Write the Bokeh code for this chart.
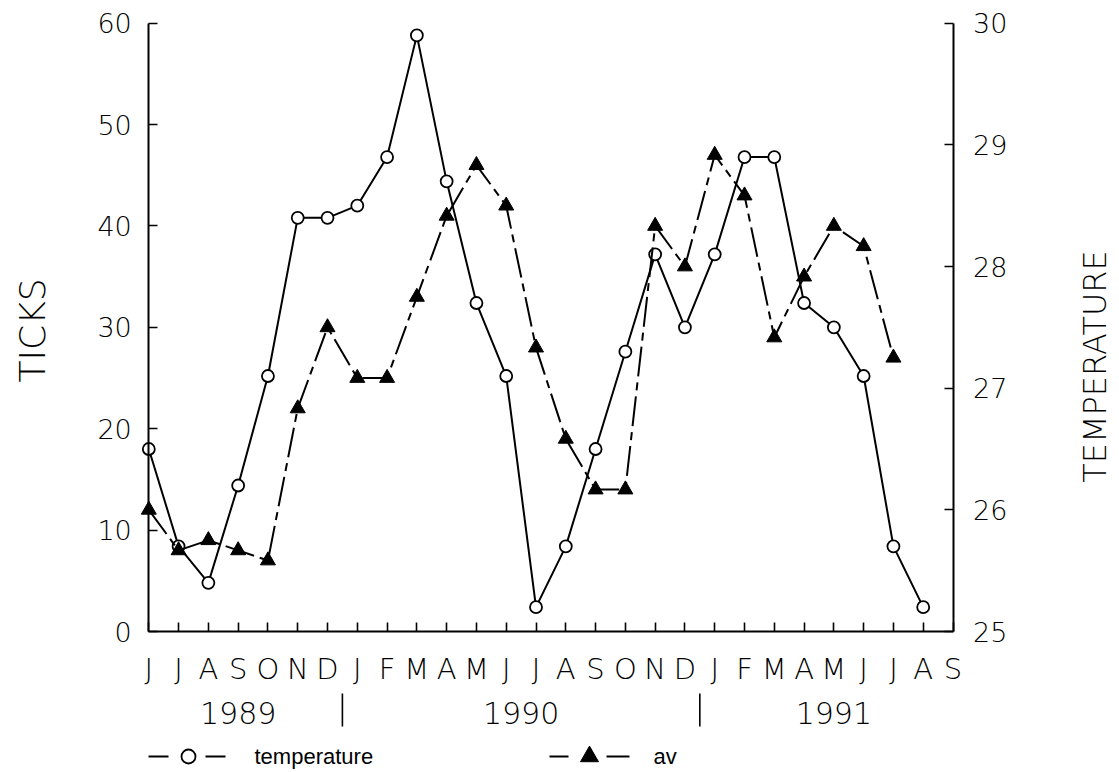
import math
from bokeh.plotting import figure
from bokeh.models import LinearAxis, Range1d, FixedTicker
from bokeh.core.properties import value
from bokeh.embed import file_html
from bokeh.resources import INLINE

# ---------------- data ----------------
months = ["J", "J", "A", "S", "O", "N", "D",
          "J", "F", "M", "A", "M", "J", "J", "A", "S", "O", "N", "D",
          "J", "F", "M", "A", "M", "J", "J", "A", "S"]
years = ["1989", "1990", "1991"]
months_per_year = [7, 12, 9]
ticks_values = [0, 10, 20, 30, 40, 50, 60]
temp_ticks = [25, 26, 27, 28, 29, 30]

temperature = [26.5, 25.7, 25.4, 26.2, 27.1, 28.4, 28.4, 28.5, 28.9, 29.9,
               28.7, 27.7, 27.1, 25.2, 25.7, 26.5, 27.3, 28.1, 27.5, 28.1,
               28.9, 28.9, 27.7, 27.5, 27.1, 25.7, 25.2]
av = [12, 8, 9, 8, 7, 22, 30, 25, 25, 33, 41, 46, 42, 28, 19, 14, 14,
      40, 36, 47, 43, 29, 35, 40, 38, 27]

x_temp = list(range(len(temperature)))
x_av = list(range(len(av)))
N = len(months) - 1

# ---------------- geometry (page pixels of the axes) ----------------
W, H = 1119, 772
PX0, PXN = 148.3, 952.5      # x = 0 and x = N
PY0, PY60 = 631.0, 22.7      # y = 0 and y = 60
SX = (PXN - PX0) / N
SY = (PY0 - PY60) / 60.0


def dx(px):
    return (px - PX0) / SX


def dy(py):
    return (PY0 - py) / SY


def to_temp(v):
    return 25 + v * 5.0 / 60.0


p = figure(width=W, height=H,
           x_range=Range1d(dx(0), dx(W)), y_range=Range1d(dy(H), dy(0)),
           output_backend="svg", toolbar_location=None,
           min_border=0, min_border_left=0, min_border_right=0,
           min_border_top=0, min_border_bottom=0)
p.extra_y_ranges = {"temp": Range1d(to_temp(dy(H)), to_temp(dy(0)))}
p.outline_line_color = None
p.xgrid.visible = False
p.ygrid.visible = False
p.background_fill_color = "white"
p.border_fill_color = "white"

NUM_FONT = "DejaVu Sans Light, DejaVu Sans"


def style_axis(ax, font_size, standoff):
    ax.axis_line_width = 2
    ax.axis_line_color = "black"
    ax.major_tick_in = 9
    ax.major_tick_out = 0
    ax.major_tick_line_width = 1.6
    ax.major_tick_line_color = "black"
    ax.minor_tick_line_color = None
    ax.major_label_text_font = NUM_FONT
    ax.major_label_text_font_size = font_size
    ax.major_label_text_color = "black"
    ax.major_label_standoff = standoff


xa = p.xaxis[0]
xa.ticker = FixedTicker(ticks=list(range(len(months))))
xa.major_label_overrides = {i: m for i, m in enumerate(months)}
xa.fixed_location = 0
xa.bounds = (0, N)
style_axis(xa, "29px", 20)

ya = p.yaxis[0]
ya.ticker = FixedTicker(ticks=ticks_values)
ya.fixed_location = 0
ya.bounds = (0, 60)
style_axis(ya, "27px", 17)

yr = LinearAxis(y_range_name="temp", ticker=FixedTicker(ticks=temp_ticks),
                fixed_location=N, bounds=(25, 30))
style_axis(yr, "27px", 20)
p.add_layout(yr, "right")

# ---------------- series ----------------
p.line(x_temp, temperature, y_range_name="temp", line_color="black", line_width=2)
p.scatter(x_temp, temperature, y_range_name="temp", marker="circle", size=12,
          fill_color="white", line_color="black", line_width=1.8)

p.line(x_av, av, line_color="black", line_width=2, line_dash="30 6 8 6")
p.scatter(x_av, av, marker="triangle", size=15, fill_color="black",
          line_color="black")

# ---------------- axis titles ----------------
p.text(x=[dx(32)], y=[dy(330)], text=["TICKS"], angle=math.pi / 2,
       text_align="center", text_baseline="middle",
       text_font=value(NUM_FONT), text_font_size=value("36px"), text_color="black")
p.text(x=[dx(1094)], y=[dy(366)], text=["TEMPERATURE"], angle=math.pi / 2,
       text_align="center", text_baseline="middle",
       text_font=value(NUM_FONT), text_font_size=value("32px"), text_color="black")

# ---------------- years and separators ----------------
centres, bounds_ = [], []
start = 0
for cnt in months_per_year:
    centres.append(start + (cnt - 1) / 2)
    start += cnt
    if start < len(months):
        bounds_.append(start - 0.5)
p.text(x=centres, y=[dy(712)] * len(years), text=years, text_align="center",
       text_baseline="middle", text_font=value(NUM_FONT),
       text_font_size=value("30px"), text_color="black")
p.segment(x0=bounds_, y0=[dy(693)] * len(bounds_), x1=bounds_,
          y1=[dy(726)] * len(bounds_), line_width=1.6, line_color="black")

# ---------------- legend ----------------
ly = dy(756)
seg_px = [(148, 168), (205, 225), (549, 568), (606, 629)]
p.segment(x0=[dx(a) for a, b in seg_px], y0=[ly] * 4,
          x1=[dx(b) for a, b in seg_px], y1=[ly] * 4,
          line_width=2, line_color="black")
p.scatter(x=[dx(188)], y=[ly], marker="circle", size=14, fill_color="white",
          line_color="black", line_width=1.8)
p.scatter(x=[dx(589)], y=[ly], marker="triangle", size=18, fill_color="black",
          line_color="black")
p.text(x=[dx(254), dx(653)], y=[ly, ly], text=["temperature", "av"],
       text_align="left", text_baseline="middle",
       text_font=value("Liberation Sans"), text_font_size=value("22px"),
       text_color="black")

open("out.html", "w").write(file_html(p, INLINE))
